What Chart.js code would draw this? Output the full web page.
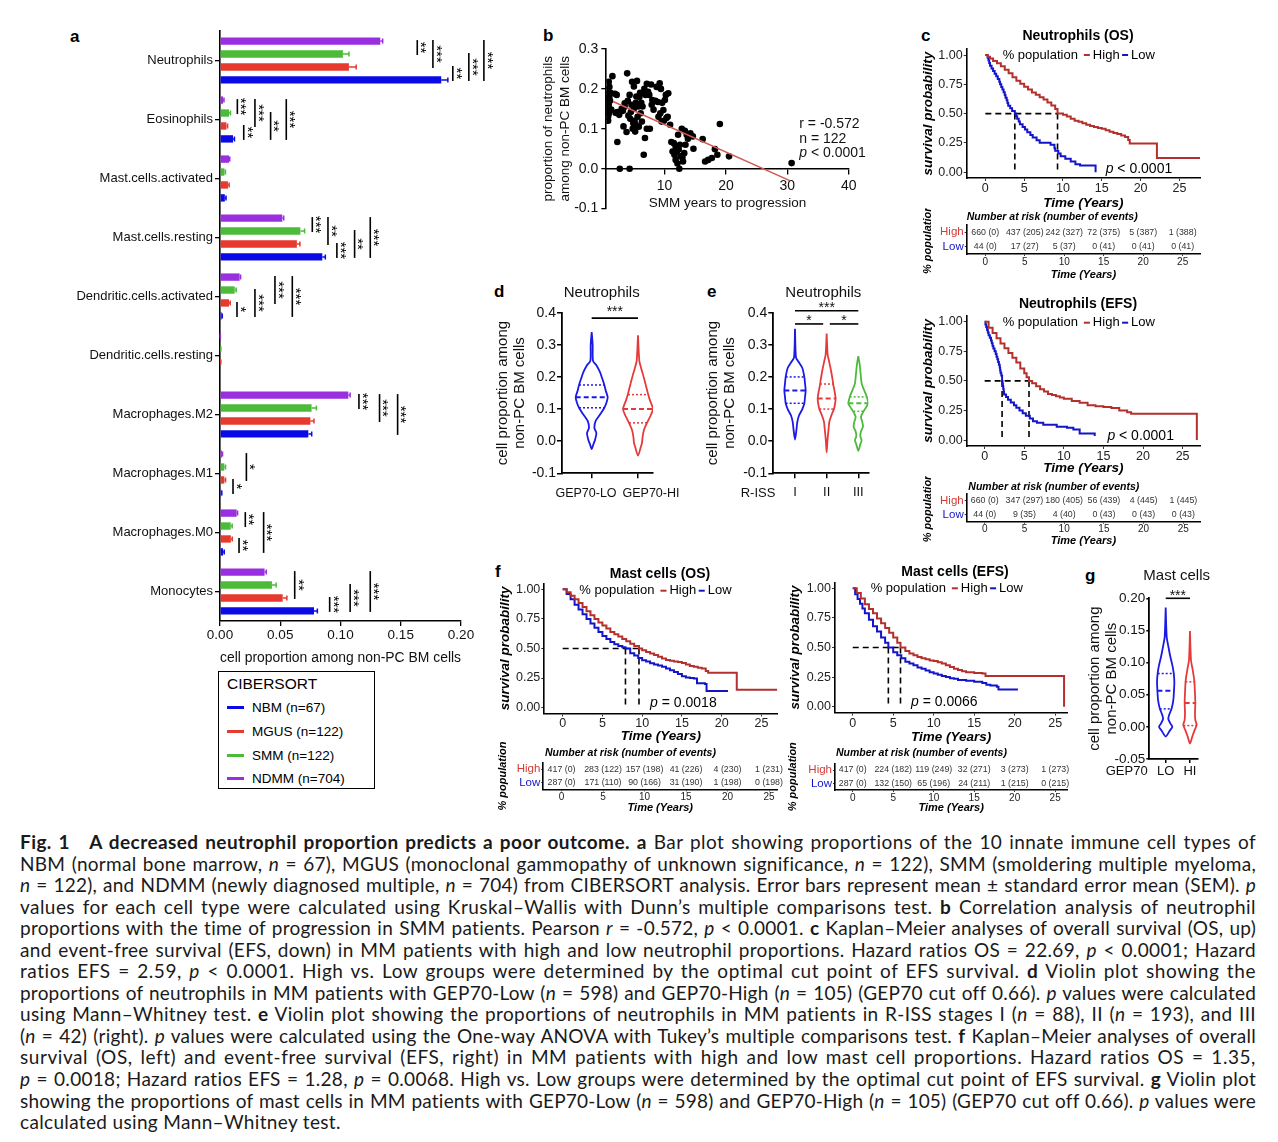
<!DOCTYPE html>
<html><head><meta charset="utf-8"><title>Fig. 1</title>
<script src="https://cdn.jsdelivr.net/npm/chart.js@4.4.1/dist/chart.umd.min.js"></script>
<style>
html,body{margin:0;padding:0;background:#fff}
body{position:relative;width:1278px;height:1142px;overflow:hidden;font-family:"Liberation Sans",Arial,Helvetica,sans-serif;color:#000}
canvas{position:absolute}
.pl{position:absolute;font-weight:bold;font-size:17px;line-height:20px}
#leg{position:absolute;left:218px;top:671px;width:157px;height:118px;border:1.6px solid #000;box-sizing:border-box}
#leg .t{position:absolute;left:8px;top:3px;font-size:15.5px;line-height:18px}
#leg .it{position:absolute;left:8px;font-size:13.5px;line-height:16px;white-space:nowrap}
#leg .it i{display:inline-block;width:17px;height:3px;vertical-align:middle;margin-right:8px;margin-top:-2px}
#cap{position:absolute;left:20px;top:831px;font-family:Lato,"Open Sans",sans-serif;font-size:19px;line-height:21.55px;color:#1a1a1a}
#cap .cl{white-space:nowrap;width:max-content}
</style></head>
<body>
<div class="pl" style="left:70px;top:27px">a</div>
<div class="pl" style="left:543px;top:26px">b</div>
<div class="pl" style="left:921px;top:26px">c</div>
<div class="pl" style="left:494px;top:282px">d</div>
<div class="pl" style="left:707px;top:282px">e</div>
<div class="pl" style="left:495px;top:562px">f</div>
<div class="pl" style="left:1085px;top:566px">g</div>

<div id="leg">
  <div class="t">CIBERSORT</div>
  <div class="it" style="top:28px"><i style="background:#0a0ae6"></i>NBM (n=67)</div>
  <div class="it" style="top:52px"><i style="background:#e63a2e"></i>MGUS (n=122)</div>
  <div class="it" style="top:76px"><i style="background:#4dbb3a"></i>SMM (n=122)</div>
  <div class="it" style="top:99px"><i style="background:#9a2fe0"></i>NDMM (n=704)</div>
</div>

<div id="cap">
<div class="cl j"><b>Fig. 1&nbsp;&nbsp;&nbsp;A decreased neutrophil proportion predicts a poor outcome.</b> <b>a</b> Bar plot showing proportions of the 10 innate immune cell types of</div>
<div class="cl j">NBM (normal bone marrow, <i>n</i> = 67), MGUS (monoclonal gammopathy of unknown significance, <i>n</i> = 122), SMM (smoldering multiple myeloma,</div>
<div class="cl j"><i>n</i> = 122), and NDMM (newly diagnosed multiple, <i>n</i> = 704) from CIBERSORT analysis. Error bars represent mean ± standard error mean (SEM). <i>p</i></div>
<div class="cl j">values for each cell type were calculated using Kruskal–Wallis with Dunn’s multiple comparisons test. <b>b</b> Correlation analysis of neutrophil</div>
<div class="cl j">proportions with the time of progression in SMM patients. Pearson <i>r</i> = -0.572, <i>p</i> &lt; 0.0001. <b>c</b> Kaplan–Meier analyses of overall survival (OS, up)</div>
<div class="cl j">and event-free survival (EFS, down) in MM patients with high and low neutrophil proportions. Hazard ratios OS = 22.69, <i>p</i> &lt; 0.0001; Hazard</div>
<div class="cl j">ratios EFS = 2.59, <i>p</i> &lt; 0.0001. High vs. Low groups were determined by the optimal cut point of EFS survival. <b>d</b> Violin plot showing the</div>
<div class="cl j">proportions of neutrophils in MM patients with GEP70-Low (<i>n</i> = 598) and GEP70-High (<i>n</i> = 105) (GEP70 cut off 0.66). <i>p</i> values were calculated</div>
<div class="cl j">using Mann–Whitney test. <b>e</b> Violin plot showing the proportions of neutrophils in MM patients in R-ISS stages I (<i>n</i> = 88), II (<i>n</i> = 193), and III</div>
<div class="cl j">(<i>n</i> = 42) (right). <i>p</i> values were calculated using the One-way ANOVA with Tukey’s multiple comparisons test. <b>f</b> Kaplan–Meier analyses of overall</div>
<div class="cl j">survival (OS, left) and event-free survival (EFS, right) in MM patients with high and low mast cell proportions. Hazard ratios OS = 1.35,</div>
<div class="cl j"><i>p</i> = 0.0018; Hazard ratios EFS = 1.28, <i>p</i> = 0.0068. High vs. Low groups were determined by the optimal cut point of EFS survival. <b>g</b> Violin plot</div>
<div class="cl j">showing the proportions of mast cells in MM patients with GEP70-Low (<i>n</i> = 598) and GEP70-High (<i>n</i> = 105) (GEP70 cut off 0.66). <i>p</i> values were</div>
<div class="cl last">calculated using Mann–Whitney test.</div>
</div>

<script>
// ================= DATA =================
// ---- panel a: CIBERSORT mean proportions and SEM ----
const cellTypes = ['Neutrophils','Eosinophils','Mast.cells.activated','Mast.cells.resting','Dendritic.cells.activated','Dendritic.cells.resting','Macrophages.M2','Macrophages.M1','Macrophages.M0','Monocytes'];
const nbmMean  = [0.1836,0.0108,0.0040,0.0849,0.0014,0.0000,0.0733,0.0010,0.0025,0.0780];
const nbmSem   = [0.0055,0.0012,0.0010,0.0025,0.0005,0.0000,0.0028,0.0005,0.0010,0.0028];
const mgusMean = [0.1070,0.0053,0.0066,0.0638,0.0075,0.0005,0.0750,0.0036,0.0090,0.0520];
const mgusSem  = [0.0060,0.0010,0.0010,0.0025,0.0010,0.0002,0.0030,0.0010,0.0012,0.0035];
const smmMean  = [0.1020,0.0075,0.0037,0.0667,0.0122,0.0005,0.0760,0.0036,0.0089,0.0431];
const smmSem   = [0.0050,0.0012,0.0008,0.0035,0.0012,0.0002,0.0040,0.0010,0.0012,0.0035];
const ndmmMean = [0.1330,0.0025,0.0075,0.0517,0.0163,0.0002,0.1065,0.0016,0.0138,0.0370];
const ndmmSem  = [0.0020,0.0008,0.0006,0.0012,0.0008,0.0001,0.0015,0.0005,0.0008,0.0014];
const propTicks = [0,0.05,0.10,0.15,0.20];
// [category index, group, group, x position, label]
const sigBrackets = [
 [0,'NDMM','SMM',0.1637,'**'],[0,'NDMM','MGUS',0.1767,'***'],[0,'MGUS','NBM',0.1932,'**'],[0,'SMM','NBM',0.2065,'***'],[0,'NDMM','NBM',0.219,'***'],
 [1,'NDMM','SMM',0.0144,'***'],[1,'NDMM','MGUS',0.029,'***'],[1,'MGUS','NBM',0.0197,'**'],[1,'SMM','NBM',0.042,'**'],[1,'NDMM','NBM',0.055,'***'],
 [3,'NDMM','SMM',0.0766,'***'],[3,'NDMM','MGUS',0.0896,'**'],[3,'MGUS','NBM',0.097,'***'],[3,'SMM','NBM',0.1117,'**'],[3,'NDMM','NBM',0.1247,'***'],
 [4,'MGUS','NBM',0.0141,'*'],[4,'SMM','NBM',0.029,'***'],[4,'NDMM','MGUS',0.0456,'***'],[4,'NDMM','NBM',0.06,'***'],
 [6,'NDMM','SMM',0.1153,'***'],[6,'NDMM','MGUS',0.1324,'***'],[6,'NDMM','NBM',0.1474,'***'],
 [7,'NDMM','MGUS',0.0219,'*'],[7,'MGUS','NBM',0.0108,'*'],
 [8,'NDMM','SMM',0.021,'**'],[8,'MGUS','NBM',0.0158,'**'],[8,'NDMM','NBM',0.0362,'***'],
 [9,'NDMM','MGUS',0.062,'**'],[9,'MGUS','NBM',0.091,'***'],[9,'SMM','NBM',0.108,'***'],[9,'NDMM','NBM',0.1247,'***']
];

// ---- panel b: SMM years to progression vs neutrophil proportion ----
const smmYears = [0.6,0.7,0.8,0.7,0.9,0.8,0.7,0.9,0.8,0.9,1.0,1.2,1.5,1.1,1.9,2.0,2.3,2.3,2.7,3.3,3.5,3.5,3.8,3.9,4.3,4.3,4.7,4.5,4.1,4.6,4.9,5.0,5.2,5.3,5.5,5.4,5.7,5.9,6.1,6.3,6.4,6.6,6.8,7.1,7.1,7.3,7.5,7.6,7.8,8.0,8.5,8.9,9.2,9.3,9.5,9.8,10.05,10.2,10.3,10.6,10.9,11.1,11.3,11.5,11.8,12.0,12.2,12.4,12.5,12.6,12.8,13.0,13.2,13.3,13.6,14.2,14.6,14.7,16.2,16.6,17.1,17.7,18.2,18.6,19.0,20.5,30.7,
 4.0,4.4,4.8,5.0,5.1,5.3,5.6,5.8,6.0,6.2,6.5,6.9,3.0,3.2,2.6,2.2,1.3,0.8,9.0,9.6,9.9,10.5,11.8,12.3,12.9,13.4,11.6,12.1,13.8,9.4,8.7,8.2,7.9,6.7,1.0];
const smmNeutrophil = [0.197,0.185,0.176,0.168,0.16,0.152,0.145,0.138,0.12,0.218,0.18,0.19,0.232,0.17,0.188,0.14,0.142,0.067,0.0,0.106,0.164,0.155,0.092,0.239,0.185,0.0,0.218,0.142,0.133,0.16,0.114,0.206,0.093,0.11,0.22,0.181,0.156,0.18,0.139,0.118,0.156,0.035,0.077,0.1,0.213,0.193,0.185,0.1,0.211,0.172,0.17,0.167,0.214,0.139,0.118,0.147,0.172,0.185,0.127,0.189,0.11,0.067,0.043,0.064,0.022,0.043,0.085,0.0,0.06,0.031,0.1,0.018,0.039,0.095,0.085,0.089,0.081,0.05,0.074,0.018,0.022,0.027,0.049,0.035,0.112,0.031,0.014,
 0.17,0.125,0.1,0.15,0.12,0.165,0.13,0.105,0.19,0.165,0.19,0.185,0.15,0.145,0.135,0.185,0.148,0.13,0.13,0.165,0.12,0.13,0.055,0.048,0.028,0.06,0.035,0.013,0.075,0.2,0.205,0.148,0.16,0.2,0.205];
const yearTicks = [10,20,30,40];
const neutTicksB = [-0.1,0,0.1,0.2,0.3];
const fitSlope = -0.00688, fitIntercept = 0.1793, fitRange = [1.6,30.4];

// ---- Kaplan-Meier curves (time in years, survival probability) ----
const kmTicks = [0,5,10,15,20,25];
const survTicks = [0,0.25,0.5,0.75,1];
const nOsHighT = [0,0.3,0.6,1,1.5,2,2.5,3,3.5,4,4.5,5,5.5,6,6.5,7,7.5,8,8.5,9,9.3,10,10.5,11,11.5,12,12.5,13,13.5,14,14.5,15,15.5,16,16.5,17,17.5,18,18.4,18.6,22.1,27.8];
const nOsHighS = [1,0.985,0.97,0.95,0.93,0.905,0.875,0.845,0.81,0.78,0.755,0.73,0.705,0.68,0.66,0.64,0.62,0.595,0.57,0.54,0.5,0.49,0.475,0.455,0.44,0.43,0.418,0.405,0.395,0.385,0.378,0.37,0.357,0.345,0.335,0.325,0.312,0.3,0.275,0.245,0.12,0.12];
const nOsLowT = [0,0.3,0.4,0.5,0.6,0.8,1.0,1.2,1.4,1.6,1.8,1.9,2.05,2.2,2.35,2.5,2.6,2.75,2.85,2.95,3.2,3.45,3.8,3.95,4.1,4.3,4.45,4.8,5.1,5.4,5.8,6.1,6.6,7.0,8.4,8.9,9.0,9.4,9.7,10.3,11.0,11.6,12.2,14.2];
const nOsLowS = [1,0.977,0.955,0.932,0.909,0.886,0.864,0.841,0.818,0.795,0.773,0.75,0.727,0.705,0.682,0.659,0.636,0.614,0.591,0.568,0.545,0.523,0.5,0.477,0.455,0.432,0.409,0.386,0.364,0.341,0.318,0.295,0.273,0.25,0.234,0.205,0.182,0.159,0.136,0.114,0.091,0.068,0.057,0];
const nEfsHighT = [0,0.5,1,1.5,2,2.5,3,3.5,4,4.5,5,5.3,5.6,6,6.5,7,7.5,8,8.5,9,9.5,10,11,12,13,14,15,16,17,18,18.5,26.8];
const nEfsHighS = [1,0.95,0.905,0.86,0.815,0.775,0.735,0.695,0.655,0.605,0.565,0.53,0.5,0.48,0.455,0.43,0.41,0.39,0.38,0.37,0.36,0.35,0.33,0.315,0.295,0.285,0.28,0.27,0.25,0.235,0.222,0];
const nEfsLowT = [0,0.1,0.2,0.3,0.4,0.5,0.65,0.8,0.9,1.0,1.1,1.25,1.4,1.5,1.6,1.7,1.8,1.9,1.95,2.0,2.1,2.2,2.25,2.3,2.35,2.4,2.45,2.7,2.95,3.3,3.7,4.0,4.4,4.8,5.2,5.7,6.1,6.6,7.4,9.1,10.4,11.2,12.0,13.9];
const nEfsLowS = [1,0.977,0.955,0.932,0.909,0.886,0.864,0.841,0.818,0.795,0.773,0.75,0.727,0.705,0.682,0.659,0.636,0.614,0.591,0.568,0.545,0.5,0.477,0.455,0.432,0.409,0.386,0.364,0.341,0.318,0.295,0.273,0.25,0.227,0.205,0.182,0.159,0.146,0.13,0.112,0.104,0.09,0.056,0.035];
const mOsHighT = [0,0.5,1,1.5,2,2.5,3,3.5,4,4.5,5,5.5,6,6.5,7,7.5,8,8.5,9,9.6,10,10.5,11,11.5,12,12.5,13,13.5,14,14.5,15,15.5,16,16.5,17,17.5,18,18.3,21.9,27.0];
const mOsHighS = [1,0.975,0.945,0.915,0.885,0.85,0.815,0.78,0.75,0.72,0.695,0.668,0.64,0.62,0.6,0.58,0.56,0.54,0.52,0.5,0.485,0.47,0.458,0.445,0.43,0.415,0.403,0.397,0.39,0.385,0.377,0.365,0.352,0.345,0.337,0.33,0.31,0.295,0.15,0.15];
const mOsLowT = [0,0.5,1,1.5,2,2.5,3,3.5,4,4.5,5,5.5,6,6.5,7,7.5,7.9,8.5,9,9.5,10,10.5,11,11.5,12,12.5,13,13.5,14,14.5,15,15.5,16,16.5,16.9,17.9,18.1,20.8];
const mOsLowS = [1,0.96,0.915,0.87,0.83,0.79,0.75,0.71,0.675,0.64,0.605,0.58,0.555,0.535,0.52,0.51,0.5,0.46,0.44,0.42,0.4,0.39,0.375,0.365,0.355,0.345,0.33,0.315,0.3,0.285,0.265,0.255,0.25,0.245,0.205,0.2,0.141,0.141];
const mEfsHighT = [0,0.5,1,1.5,2,2.5,3,3.5,4,4.5,5,5.5,5.9,6.5,7,7.5,8,8.5,9,9.5,10,10.5,11,11.5,12,12.5,13,13.5,14,15,16,16.4,26.1];
const mEfsHighS = [1,0.96,0.915,0.865,0.825,0.79,0.745,0.705,0.665,0.625,0.585,0.54,0.5,0.47,0.45,0.435,0.42,0.41,0.4,0.39,0.385,0.375,0.365,0.35,0.335,0.32,0.31,0.3,0.29,0.285,0.28,0.26,0];
const mEfsLowT = [0,0.3,0.6,0.9,1.2,1.5,2,2.5,3,3.5,4,4.4,5,5.5,6,6.5,7,7.5,8,8.5,9,9.5,10,10.5,11,11.5,12,12.5,13,14,15,16,16.5,17,17.8,18,20.4];
const mEfsLowS = [1,0.95,0.91,0.87,0.83,0.79,0.735,0.68,0.635,0.585,0.54,0.5,0.46,0.435,0.41,0.38,0.365,0.35,0.33,0.32,0.305,0.29,0.28,0.27,0.26,0.25,0.24,0.235,0.225,0.22,0.21,0.2,0.185,0.18,0.168,0.146,0.146];
// median survival (low, high)
const nOsMedian = [3.8,9.3], nEfsMedian = [2.2,5.6], mOsMedian = [7.9,9.6], mEfsMedian = [4.4,5.9];
// number at risk (number of events) at 0,5,...,25 years
const riskRows = ['High','Low'];
const nOsRiskHigh = [660,437,242,72,5,1],  nOsEventHigh = [0,205,327,375,387,388];
const nOsRiskLow  = [44,17,5,0,0,0],        nOsEventLow  = [0,27,37,41,41,41];
const nEfsRiskHigh= [660,347,180,56,4,1],   nEfsEventHigh= [0,297,405,439,445,445];
const nEfsRiskLow = [44,9,4,0,0,0],         nEfsEventLow = [0,35,40,43,43,43];
const mOsRiskHigh = [417,283,157,41,4,1],   mOsEventHigh = [0,122,198,226,230,231];
const mOsRiskLow  = [287,171,90,31,1,0],    mOsEventLow  = [0,110,166,190,198,198];
const mEfsRiskHigh= [417,224,119,32,3,1],   mEfsEventHigh= [0,182,249,271,273,273];
const mEfsRiskLow = [287,132,65,24,1,0],    mEfsEventLow = [0,150,196,211,215,215];

// ---- violins: value levels (top→bottom) and relative half-widths ----
const dLoY = [0.34,0.30,0.25,0.235,0.215,0.20,0.175,0.158,0.137,0.122,0.104,0.083,0.063,0.042,0.025,0.004,-0.01,-0.025];
const dLoW = [0,3,4,15,25,30,38,42,48,45,38,25,12,8,14,10,5,0];
const dLoQ = [0.104,0.137,0.175], dLoQW = [38,48,38];
const dHiY = [0.33,0.25,0.225,0.208,0.18,0.148,0.127,0.1,0.08,0.057,0.035,0.015,-0.005,-0.02,-0.045];
const dHiW = [0,4,10,15,22,30,36,45,38,27,18,14,12,8,0];
const dHiQ = [0.057,0.1,0.145], dHiQW = [27,45,30];
const eIY = [0.35,0.26,0.245,0.228,0.2,0.18,0.158,0.137,0.118,0.1,0.08,0.06,0.033,0.005];
const eIW = [0,3,12,22,28,30,32,30,28,22,12,7,4,0];
const eIQ = [0.118,0.158,0.2], eIQW = [28,32,28];
const eIIY = [0.335,0.27,0.25,0.22,0.19,0.175,0.154,0.133,0.115,0.1,0.08,0.06,0.04,0.02,-0.005,-0.035];
const eIIW = [0,3,7,13,18,20,24,27,25,22,14,8,6,4,2,0];
const eIIQ = [0.1,0.133,0.178], eIIQW = [22,27,20];
const eIIIY = [0.265,0.24,0.21,0.18,0.16,0.143,0.128,0.118,0.106,0.09,0.075,0.06,0.045,0.03,0.015,0.003,-0.01,-0.03];
const eIIIW = [0,4,7,10,17,24,28,30,24,14,8,12,14,8,6,10,6,0];
const eIIIQ = [0.093,0.118,0.138], eIIIQW = [15,30,26];
const gLoY = [0.1855,0.14,0.125,0.109,0.096,0.084,0.07,0.057,0.042,0.029,0.018,0.012,0.0055,0.0,-0.006,-0.015];
const gLoW = [0,3,8,14,20,24,26,25,23,18,10,8,14,20,12,0];
const gLoQ = [0.028,0.056,0.083], gLoQW = [18,25,24];
const gHiY = [0.149,0.104,0.089,0.072,0.052,0.038,0.021,0.011,0.003,-0.005,-0.015,-0.026];
const gHiW = [0,3,8,13,15,16,15,16,20,14,7,0];
const gHiQ = [0.002,0.037,0.07], gHiQW = [20,16,14];
const neutTicksV = [-0.1,0,0.1,0.2,0.3,0.4];
const mastTicksV = [-0.05,0,0.05,0.1,0.15,0.2];

// ================= STYLE / HELPERS =================
const F = "'Liberation Sans', Arial, Helvetica, sans-serif";
Chart.defaults.font.family = F;
Chart.defaults.color = '#111';
const colNBM='#0a0ae6', colMGUS='#e63a2e', colSMM='#4dbb3a', colNDMM='#9a2fe0';
const kmRed='#b3302c', kmBlue='#1414c8', riskRed='#d43a36';
const vBlue='#1a1ae6', vRed='#e63a3a', vGreen='#4cbb3c';

function place(box){
  const c=document.createElement('canvas');
  c.width=box[2]; c.height=box[3];
  c.style.left=box[0]+'px'; c.style.top=box[1]+'px';
  c.style.width=box[2]+'px'; c.style.height=box[3]+'px';
  document.body.appendChild(c); return c;
}
function pad(box,area,bottom){ return {left:0, top:area[1]-box[1], right:box[0]+box[2]-area[2], bottom:bottom||0}; }
const fixW = w => s => { s.width = w; };
const fixH = h => s => { s.height = h; };
const setTicks = arr => s => { s.ticks = arr.map(v => ({value:v})); };
const baseOpts = (box,area,scales,bottom) => ({responsive:false, animation:false, events:[], layout:{padding:pad(box,area,bottom)},
  plugins:{legend:{display:false}, tooltip:{enabled:false}, title:{display:false}}, scales});
function gridT(tl,col,w,off){ return {display:true, drawOnChartArea:false, drawTicks:true, tickLength:tl, color:col||'#000', lineWidth:w||1.3, offset:!!off}; }
const bord = (w)=>({display:true, color:'#000', width:w||1.6});

// ================= PANEL a =================
const groupIndex = {NDMM:0, SMM:1, MGUS:2, NBM:3};
const errPlugin = {id:'err', afterDatasetsDraw(ch){
  const ctx=ch.ctx, xs=ch.scales.x; ctx.save();
  ch.data.datasets.forEach((ds,i)=>{ const meta=ch.getDatasetMeta(i);
    meta.data.forEach((el,j)=>{ const e=ds.sem[j]; if(!e) return; const v=ds.data[j];
      const x0=xs.getPixelForValue(v), x1=xs.getPixelForValue(v+e), y=el.y;
      ctx.strokeStyle=ds.backgroundColor; ctx.lineWidth=1.5;
      ctx.beginPath(); ctx.moveTo(x0,y); ctx.lineTo(x1,y); ctx.moveTo(x1,y-2.5); ctx.lineTo(x1,y+2.5); ctx.stroke();
    });
  }); ctx.restore(); }};
const bracketPlugin = {id:'brk', afterDraw(ch){
  const ctx=ch.ctx, xs=ch.scales.x; ctx.save();
  ctx.strokeStyle='#000'; ctx.fillStyle='#000'; ctx.lineWidth=1.6;
  ctx.font='15px '+F; ctx.textAlign='center'; ctx.textBaseline='middle';
  sigBrackets.forEach(([cat,g1,g2,xv,lab])=>{
    const y1=ch.getDatasetMeta(groupIndex[g1]).data[cat].y, y2=ch.getDatasetMeta(groupIndex[g2]).data[cat].y;
    const x=xs.getPixelForValue(xv);
    ctx.beginPath(); ctx.moveTo(x,y1-1); ctx.lineTo(x,y2+1); ctx.stroke();
    ctx.save(); ctx.translate(x+3,(y1+y2)/2); ctx.rotate(Math.PI/2); ctx.fillText(lab,0,0); ctx.restore();
  }); ctx.restore(); }};
(function(){
  const box=[0,0,500,670], area=[220,31,461,621];
  const groups=[['NDMM',ndmmMean,ndmmSem,colNDMM],['SMM',smmMean,smmSem,colSMM],['MGUS',mgusMean,mgusSem,colMGUS],['NBM',nbmMean,nbmSem,colNBM]];
  new Chart(place(box),{type:'bar',
    data:{labels:cellTypes, datasets:groups.map(g=>({label:g[0], data:g[1], sem:g[2], backgroundColor:g[3], borderWidth:0, categoryPercentage:0.877, barPercentage:0.57}))},
    options:Object.assign(baseOpts(box,area,{
      x:{type:'linear', min:0, max:0.2, afterBuildTicks:setTicks(propTicks), afterFit:fixH(box[1]+box[3]-area[3]),
         grid:gridT(5), border:bord(1.6), ticks:{font:{size:13.5}, color:'#111', padding:1.2, maxRotation:0, autoSkip:false, callback:v=>v.toFixed(2)},
         title:{display:true, text:'cell proportion among non-PC BM cells', font:{size:14}, color:'#111', padding:{top:0,bottom:3.6}}},
      y:{afterFit:fixW(area[0]-box[0]), grid:gridT(5,'#000',1.3,false), border:bord(1.6),
         ticks:{font:{size:13}, color:'#111', padding:2, autoSkip:false}}
    }),{indexAxis:'y'}),
    plugins:[errPlugin, bracketPlugin]});
})();

// ================= PANEL b =================
(function(){
  const box=[530,25,350,195], area=[606.3,49,848.7,209];
  const statsPlugin={id:'stats', afterDraw(ch){
    const ctx=ch.ctx; ctx.save(); ctx.fillStyle='#111'; ctx.textBaseline='middle'; ctx.textAlign='left';
    const x=799.3-box[0];
    ctx.font='14px '+F; ctx.fillText('r = -0.572', x, 124.3-box[1]); ctx.fillText('n = 122', x, 139.3-box[1]);
    ctx.font='italic 14px '+F; ctx.fillText('p', x, 153.6-box[1]); const w=ctx.measureText('p').width;
    ctx.font='14px '+F; ctx.fillText(' < 0.0001', x+w, 153.6-box[1]); ctx.restore(); }};
  new Chart(place(box),{type:'scatter',
    data:{datasets:[
      {type:'line', data:fitRange.map(x=>({x, y:fitIntercept+fitSlope*x})), borderColor:'#d05a55', borderWidth:1.6, pointRadius:0, order:0},
      {data:smmYears.map((x,i)=>({x, y:smmNeutrophil[i]})), backgroundColor:'#000', borderWidth:0, pointRadius:3.3, order:1}
    ]},
    options:baseOpts(box,area,{
      x:{type:'linear', min:0.5, max:40, position:{y:0}, afterBuildTicks:setTicks(yearTicks), afterFit:fixH(43),
         grid:gridT(5), border:bord(1.6), ticks:{font:{size:14}, color:'#111', padding:3.6, maxRotation:0},
         title:{display:true, text:'SMM years to progression', font:{size:13.5}, color:'#111', padding:{top:0,bottom:0.2}}},
      y:{type:'linear', min:-0.1, max:0.3, afterBuildTicks:setTicks(neutTicksB), afterFit:fixW(area[0]-box[0]),
         grid:gridT(5), border:bord(1.6), ticks:{font:{size:14}, color:'#111', padding:3, callback:v=>v.toFixed(1)},
         title:{display:true, text:['proportion of neutrophils','among non-PC BM cells'], font:{size:13.5, lineHeight:1.25}, color:'#111', padding:{top:9.6,bottom:0}}}
    }, box[1]+box[3]-area[3]),
    plugins:[statsPlugin]});
})();

// ================= KM charts =================
const kmPts = (t,s) => t.map((v,i)=>({x:v, y:s[i]}));
function kmDecor(o){
  return {id:'kmd', afterDraw(ch){
    const ctx=ch.ctx, L=o.box[0], T=o.box[1]; ctx.save();
    ctx.fillStyle='#000'; ctx.textBaseline='middle';
    ctx.font='bold 14px '+F; ctx.textAlign='center'; ctx.fillText(o.title, o.titleXY[0]-L, o.titleXY[1]-T);
    ctx.font='13px '+F; ctx.textAlign='left';
    let x=o.legXY[0]-L; const y=o.legXY[1]-T;
    ctx.fillText('% population', x, y); x+=ctx.measureText('% population').width+6;
    [['High',kmRed],['Low',kmBlue]].forEach(([lab,col])=>{
      ctx.strokeStyle=col; ctx.lineWidth=2; ctx.beginPath(); ctx.moveTo(x,y); ctx.lineTo(x+6,y); ctx.stroke();
      x+=9; ctx.fillStyle='#000'; ctx.fillText(lab,x,y); x+=ctx.measureText(lab).width+2.5; });
    const px=ch.scales.x.getPixelForValue(o.pAt[0]), py=ch.scales.y.getPixelForValue(o.pAt[1]);
    ctx.font='italic 14px '+F; ctx.fillText('p', px, py); const w=ctx.measureText('p').width;
    ctx.font='14px '+F; ctx.fillText(o.pText, px+w, py);
    ctx.restore(); }};
}
function makeKM(o){
  const b=o.box, a=o.area, mMax=Math.max(...o.med);
  const dash={borderColor:'#000', borderDash:[6,4], borderWidth:1.6, pointRadius:0};
  const ds=[
    {data:kmPts(o.hT,o.hS), borderColor:kmRed, stepped:true, borderWidth:2, pointRadius:0},
    {data:kmPts(o.lT,o.lS), borderColor:kmBlue, stepped:true, borderWidth:2, pointRadius:0},
    Object.assign({data:[{x:0,y:0.5},{x:mMax,y:0.5}]},dash)
  ].concat(o.med.map(m=>Object.assign({data:[{x:m,y:0.5},{x:m,y:0}]},dash)));
  new Chart(place(b),{type:'line', data:{datasets:ds},
    options:baseOpts(b,a,{
      x:{type:'linear', min:o.xr[0], max:o.xr[1], afterBuildTicks:setTicks(kmTicks), afterFit:fixH(b[1]+b[3]-a[3]),
         grid:gridT(3,'#333',1), border:bord(1.6), ticks:{font:{size:12.5}, color:'#222', padding:0, maxRotation:0, autoSkip:false},
         title:{display:true, text:'Time (Years)', font:{size:13.5, weight:'bold', style:'italic'}, color:'#000', padding:{top:0,bottom:o.xtp}}},
      y:{type:'linear', min:-0.05, max:1.05, afterBuildTicks:setTicks(survTicks), afterFit:fixW(a[0]-b[0]),
         grid:gridT(3,'#333',1), border:bord(1.6), ticks:{font:{size:12.5}, color:'#222', padding:1, autoSkip:false, callback:v=>v.toFixed(2)},
         title:{display:true, text:'survival probability', font:{size:13.5, weight:'bold', style:'italic'}, color:'#000', padding:{top:o.ytp,bottom:0}}}
    }),
    plugins:[kmDecor(o)]});
}
function riskDecor(o){
  return {id:'rkd', afterDraw(ch){
    const ctx=ch.ctx, L=o.box[0], T=o.box[1], xs=ch.scales.x, ys=ch.scales.y; ctx.save();
    ctx.fillStyle='#000'; ctx.textBaseline='middle'; ctx.textAlign='left';
    ctx.font='bold italic 10.5px '+F; ctx.fillText('Number at risk (number of events)', o.nrXY[0]-L, o.nrXY[1]-T);
    ctx.font='8.8px '+F; ctx.textAlign='center'; ctx.fillStyle='#333';
    [[o.hN,o.hE],[o.lN,o.lE]].forEach(([n,e],r)=>{ const y=ys.getPixelForValue(r);
      kmTicks.forEach((t,i)=>{ ctx.fillText(n[i]+' ('+e[i]+')', xs.getPixelForValue(t), y); }); });
    ctx.restore(); }};
}
function makeRisk(o){
  const b=o.box, a=o.area;
  new Chart(place(b),{type:'line', data:{datasets:[]},
    options:baseOpts(b,a,{
      x:{type:'linear', min:o.xr[0], max:o.xr[1], afterBuildTicks:setTicks(kmTicks), afterFit:fixH(b[1]+b[3]-a[3]),
         grid:gridT(2,'#333',1), border:bord(1.6), ticks:{font:{size:10}, color:'#222', padding:0, maxRotation:0, autoSkip:false},
         title:{display:true, text:'Time (Years)', font:{size:11, weight:'bold', style:'italic'}, color:'#000', padding:{top:0,bottom:o.xtp}}},
      y:{type:'category', labels:riskRows, offset:true, afterFit:fixW(a[0]-b[0]),
         grid:gridT(2,'#333',1,false), border:bord(1.6),
         ticks:{font:{size:11.5}, padding:1, autoSkip:false, color:c=>c.index===0?riskRed:kmBlue},
         title:{display:true, text:'% population', font:{size:11, weight:'bold', style:'italic'}, color:'#000', padding:{top:o.ytp,bottom:0}}}
    }),
    plugins:[riskDecor(o)]});
}
// Neutrophils OS
makeKM({box:[905,25,310,190], area:[966.7,49.2,1200,178], xr:[-2.4,27.65], hT:nOsHighT,hS:nOsHighS,lT:nOsLowT,lS:nOsLowS, med:nOsMedian,
  title:'Neutrophils (OS)', titleXY:[1078,36], legXY:[1002.7,55], pAt:[15.5,0.025], pText:' < 0.0001', ytp:14.9, xtp:3.9});
makeRisk({box:[905,208,310,74], area:[966.7,225,1200,254], xr:[-2.35,27.2], hN:nOsRiskHigh,hE:nOsEventHigh,lN:nOsRiskLow,lE:nOsEventLow, nrXY:[966.7,217], ytp:16.4, xtp:0.4});
// Neutrophils EFS
makeKM({box:[905,292,310,190], area:[966.7,315.8,1200,446], xr:[-2.27,27.2], hT:nEfsHighT,hS:nEfsHighS,lT:nEfsLowT,lS:nEfsLowS, med:nEfsMedian,
  title:'Neutrophils (EFS)', titleXY:[1078,304], legXY:[1002.7,322.7], pAt:[15.5,0.03], pText:' < 0.0001', ytp:14.9, xtp:5.6});
makeRisk({box:[905,476,310,74], area:[966.7,493.7,1200,521.7], xr:[-2.27,27.1], hN:nEfsRiskHigh,hE:nEfsEventHigh,lN:nEfsRiskLow,lE:nEfsEventLow, nrXY:[968.3,486.7], ytp:16.4, xtp:2.7});
// Mast cells OS
makeKM({box:[495,562,290,185], area:[544.3,583.4,777.3,713.5], xr:[-2.31,27.0], hT:mOsHighT,hS:mOsHighS,lT:mOsLowT,lS:mOsLowS, med:mOsMedian,
  title:'Mast cells (OS)', titleXY:[660,574], legXY:[579.3,590.7], pAt:[11.0,0.04], pText:' = 0.0018', ytp:1.9, xtp:2.2});
makeRisk({box:[495,742,290,76], area:[543.3,762.6,777.3,789.4], xr:[-2.2,26.0], hN:mOsRiskHigh,hE:mOsEventHigh,lN:mOsRiskLow,lE:mOsEventLow, nrXY:[545,752.7], ytp:1.7, xtp:3.4});
// Mast cells EFS
makeKM({box:[785,562,290,185], area:[835,582.4,1067.3,712.6], xr:[-2.19,26.5], hT:mEfsHighT,hS:mEfsHighS,lT:mEfsLowT,lS:mEfsLowS, med:mEfsMedian,
  title:'Mast cells (EFS)', titleXY:[955,571.7], legXY:[870.7,588.3], pAt:[7.2,0.04], pText:' = 0.0066', ytp:1.9, xtp:1.6});
makeRisk({box:[785,742,290,76], area:[835,763.4,1067.3,790], xr:[-2.19,26.5], hN:mEfsRiskHigh,hE:mEfsEventHigh,lN:mEfsRiskLow,lE:mEfsEventLow, nrXY:[836,752.7], ytp:1.7, xtp:3.1});

// ================= Violins =================
function violinDecor(o){
  return {id:'vd', afterDraw(ch){
    const ctx=ch.ctx, L=o.box[0], T=o.box[1], xs=ch.scales.x, ys=ch.scales.y; ctx.save();
    ctx.fillStyle='#111'; ctx.strokeStyle='#000'; ctx.textAlign='center';
    ctx.font='15px '+F; ctx.textBaseline='middle'; ctx.fillText(o.title, o.titleXY[0]-L, o.titleXY[1]-T);
    ctx.font=o.xfs+'px '+F;
    if(o.extra){ ctx.fillText(o.extra[0], o.extra[1]-L, o.extra[2]-T); }
    if(o.labelX){ o.names.forEach((nm,i)=>ctx.fillText(nm, o.labelX[i]-L, o.labelY-T)); }
    ctx.font='14px '+F; ctx.textBaseline='alphabetic'; ctx.lineWidth=1.6;
    o.sig.forEach(([p1,p2,yv,lab])=>{ const x1=xs.getPixelForValue(p1), x2=xs.getPixelForValue(p2), y=ys.getPixelForValue(yv);
      ctx.beginPath(); ctx.moveTo(x1,y); ctx.lineTo(x2,y); ctx.stroke(); ctx.fillText(lab,(x1+x2)/2,y+o.sigGap); });
    ctx.restore(); }};
}
function makeViolin(o){
  const b=o.box, a=o.area, ds=[];
  o.violins.forEach(v=>{
    const r=v.y.map((y,i)=>({x:v.pos+v.w[i]*o.k, y}));
    const l=v.y.map((y,i)=>({x:v.pos-v.w[i]*o.k, y})).reverse().slice(1);
    ds.push({data:r.concat(l), borderColor:v.color, borderWidth:1.8, pointRadius:0, tension:0.25, fill:false});
    v.q.forEach((qv,j)=>{ const hw=v.qw[j]*o.k;
      ds.push({data:[{x:v.pos-hw,y:qv},{x:v.pos+hw,y:qv}], borderColor:v.color, borderWidth:j===1?2:1.5, borderDash:j===1?[5,3]:[2,2], pointRadius:0}); });
  });
  new Chart(place(b),{type:'line', data:{datasets:ds},
    options:baseOpts(b,a,{
      x:{type:'linear', min:o.xr[0], max:o.xr[1], afterBuildTicks:setTicks(o.pos), afterFit:fixH(b[1]+b[3]-a[3]),
         grid:gridT(o.xtl,'#000',1.5), border:bord(1.8), ticks:{font:{size:o.xfs}, color:'#111', padding:o.xtpad, maxRotation:0, autoSkip:false, callback:(v,i)=>o.labelX?'':o.names[i]}},
      y:{type:'linear', min:o.yr[0], max:o.yr[1], afterBuildTicks:setTicks(o.yt), afterFit:fixW(a[0]-b[0]),
         grid:gridT(o.ytl,'#000',1.5), border:bord(1.8), ticks:{font:{size:o.yfs}, color:'#111', padding:1, autoSkip:false, callback:v=>v.toFixed(o.dec)},
         title:{display:true, text:['cell proportion among','non-PC BM cells'], font:{size:15, lineHeight:o.ylh}, color:'#111', padding:{top:o.ytp,bottom:0}}}
    }),
    plugins:[violinDecor(o)]});
}
makeViolin({box:[485,285,205,220], area:[562,312.7,653,473.3], xr:[0.359,2.324], yr:[-0.1,0.4], yt:neutTicksV, dec:1, k:1/139,
  pos:[1,2], names:['GEP70-LO','GEP70-HI'], labelX:[586,651], labelY:493.3, xtl:5, xtpad:6, xfs:12.5, yfs:14, ytl:5, ytp:10, ylh:1.1,
  violins:[{pos:1,y:dLoY,w:dLoW,q:dLoQ,qw:dLoQW,color:vBlue},{pos:2,y:dHiY,w:dHiW,q:dHiQ,qw:dHiQW,color:vRed}],
  title:'Neutrophils', titleXY:[601.7,293.3], sig:[[1,2,0.383,'***']], sigGap:-2});
makeViolin({box:[700,285,180,220], area:[773.3,312.7,868.3,473.3], xr:[0.314,3.316], yr:[-0.1,0.4], yt:neutTicksV, dec:1, k:1/95,
  pos:[1,2,3], names:['I','II','III'], xtl:5, xtpad:6, xfs:13, yfs:14, ytl:5, ytp:5, ylh:1.1,
  violins:[{pos:1,y:eIY,w:eIW,q:eIQ,qw:eIQW,color:vBlue},{pos:2,y:eIIY,w:eIIW,q:eIIQ,qw:eIIQW,color:vRed},{pos:3,y:eIIIY,w:eIIIW,q:eIIIQ,qw:eIIIQW,color:vGreen}],
  title:'Neutrophils', titleXY:[823.3,293.3], extra:['R-ISS',758,493.3], sig:[[1,3,0.406,'***'],[1,1.89,0.365,'*'],[2.1,3,0.365,'*']], sigGap:1.5});
makeViolin({box:[1080,565,135,222], area:[1149.3,598.3,1198,759], xr:[0.325,2.33], yr:[-0.05,0.2], yt:mastTicksV, dec:2, k:1/73,
  pos:[1,2], names:['LO','HI'], xtl:4, xtpad:1, xfs:13, yfs:13.5, ytl:3, ytp:6.4, ylh:1.15,
  violins:[{pos:1,y:gLoY,w:gLoW,q:gLoQ,qw:gLoQW,color:vBlue},{pos:2,y:gHiY,w:gHiW,q:gHiQ,qw:gHiQW,color:vRed}],
  title:'Mast cells', titleXY:[1176.7,576], extra:['GEP70',1126.7,771.7], sig:[[1,2,0.2,'***']], sigGap:1.5});

// ================= caption justification =================
function justify(){
  const lines=[...document.querySelectorAll('#cap .cl.j')];
  let lsSum=0;
  lines.forEach(el=>{
    el.style.wordSpacing='0px'; el.style.letterSpacing='0px';
    const w0=el.getBoundingClientRect().width;
    const nch=el.textContent.replace(/\s+$/,'').length;
    const ls=Math.max(0,(1236-w0)*0.6/nch);
    el.style.letterSpacing=ls+'px'; lsSum+=ls;
    const w1=el.getBoundingClientRect().width;
    const n=(el.textContent.match(/[ \u00a0]/g)||[]).length;
    el.style.wordSpacing=((1236-w1)/n)+'px';
  });
  const last=document.querySelector('#cap .cl.last');
  if(last) last.style.letterSpacing=(lsSum/lines.length)+'px';
}
justify();
if(document.fonts && document.fonts.ready) document.fonts.ready.then(justify);
</script>
</body></html>
